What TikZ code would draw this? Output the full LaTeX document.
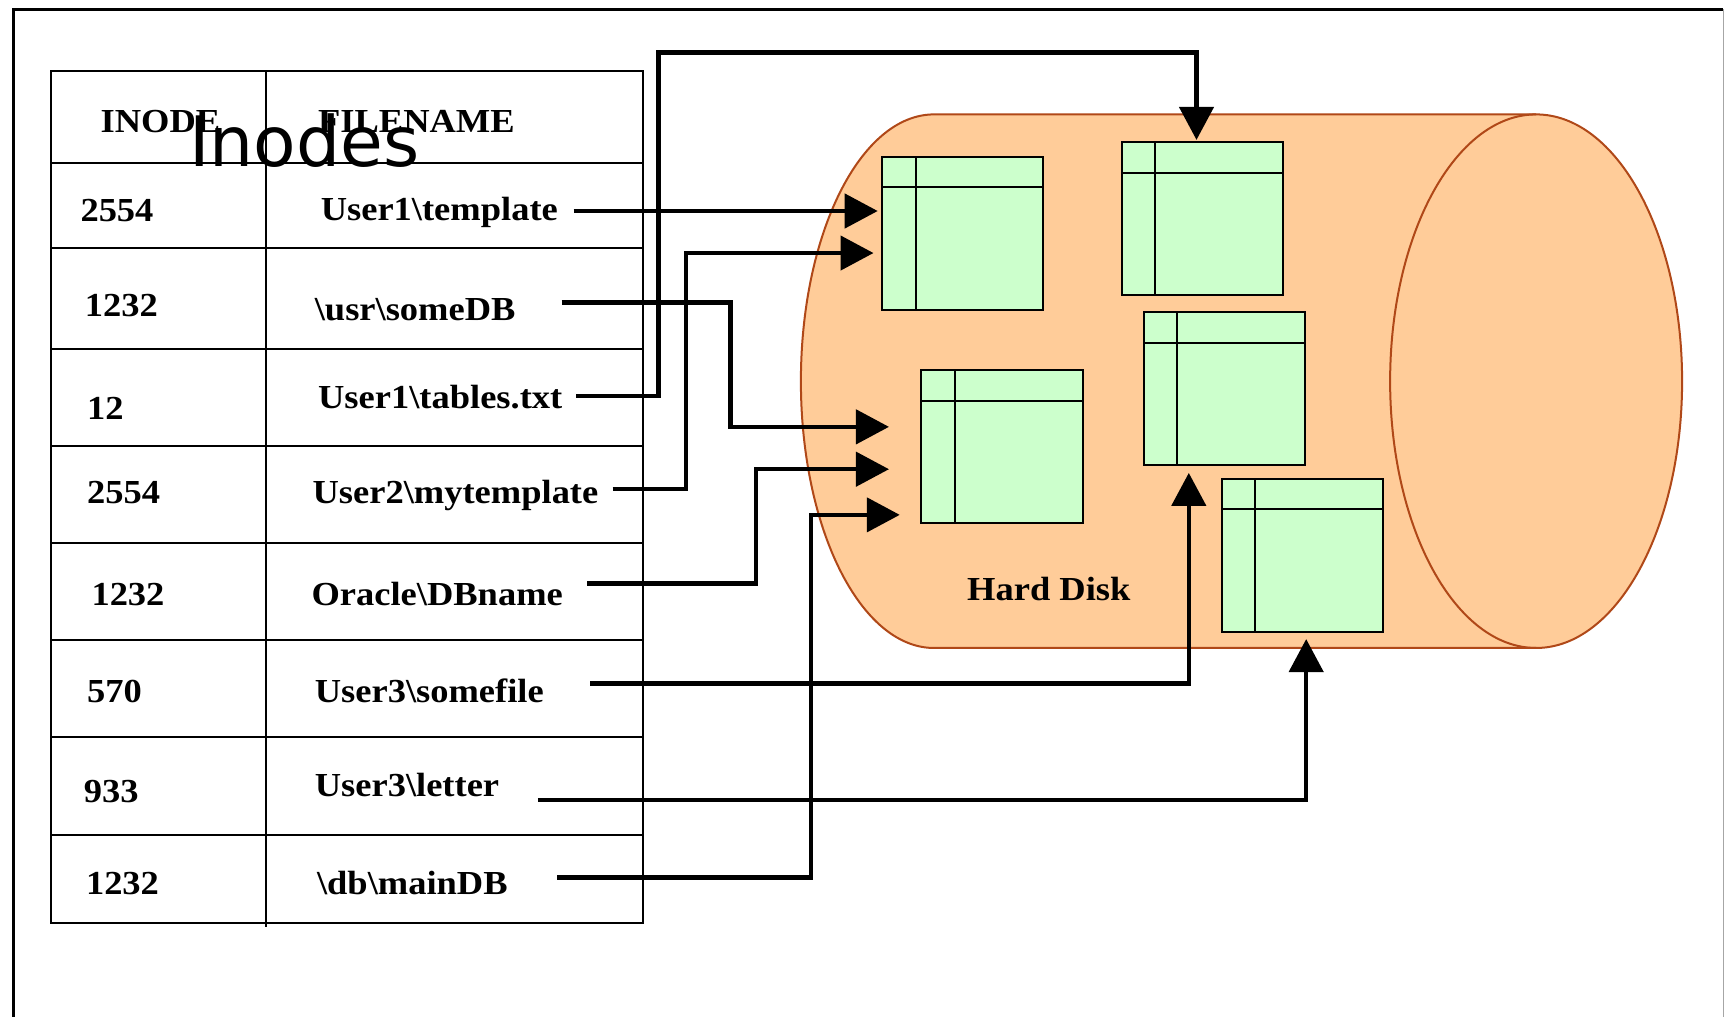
\documentclass[tikz,border=0pt]{standalone}
\usepackage{fontspec}
\usepackage{graphicx}
\setmainfont{Liberation Serif}
\newfontfamily\dejavu{DejaVu Sans}
\usetikzlibrary{arrows.meta}
\definecolor{peach}{HTML}{FFCC99}
\definecolor{boxgreen}{HTML}{CCFFCC}
\definecolor{diskedge}{RGB}{176,72,24}
\newcommand{\mybs}{\textbackslash}
\newcommand{\tabtxt}[1]{\scalebox{1.14}[1.05]{\fontsize{32}{36}\selectfont\bfseries #1}}
\begin{document}
\begin{tikzpicture}[x=1.1pt,y=-1.1pt,
  cell/.style={anchor=base west, inner sep=0pt},
  dblock/.style={draw=black, line width=2pt, fill=boxgreen, minimum width=161pt,
    minimum height=153pt, inner sep=0pt, outer sep=0pt},
  conn/.style={line width=4.5pt, -{Triangle[length=33pt, width=34pt]}},
  tline/.style={line width=2pt}]
\fill[white] (0,0) rectangle (1568,924);
\useasboundingbox (0,0) rectangle (1568,924);
% frame
\draw[line width=3pt] (12,924) -- (12,8.5) -- (1566.4,8.5);
\draw[black!35, line width=1.5pt] (1566.4,8.5) -- (1566.4,924);
% table
\draw[tline] (46.5,64.2) rectangle (584.4,839);
\foreach \y in {148.5,225.8,317.6,405,493.8,581.8,670,758.7}
  \draw[tline] (46.5,\y) -- (584.4,\y);
\draw[tline] (241.8,64.2) -- (241.8,843);
% table text
\node[cell] (h1) at (91.3,120.6) {\tabtxt{INODE}};
\node[cell] (h2) at (289,120.6) {\tabtxt{FILENAME}};
\node[cell] (n1) at (73,201.5) {\tabtxt{2554}};
\node[cell] (f1) at (291.4,200.6) {\tabtxt{User1\mybs template}};
\node[cell] (n2) at (77,287.3) {\tabtxt{1232}};
\node[cell] (f2) at (286,291.5) {\tabtxt{\mybs usr\mybs someDB}};
\node[cell] (n3) at (79,381) {\tabtxt{12}};
\node[cell] (f3) at (289,371.4) {\tabtxt{User1\mybs tables.txt}};
\node[cell] (n4) at (79,457.5) {\tabtxt{2554}};
\node[cell] (f4) at (284,457.5) {\tabtxt{User2\mybs mytemplate}};
\node[cell] (n5) at (83,550) {\tabtxt{1232}};
\node[cell] (f5) at (283,550) {\tabtxt{Oracle\mybs DBname}};
\node[cell] (n6) at (79,638.6) {\tabtxt{570}};
\node[cell] (f6) at (286,638.6) {\tabtxt{User3\mybs somefile}};
\node[cell] (n7) at (76,729.2) {\tabtxt{933}};
\node[cell] (f7) at (286,723.6) {\tabtxt{User3\mybs letter}};
\node[cell] (n8) at (78,813) {\tabtxt{1232}};
\node[cell] (f8) at (288,813) {\tabtxt{\mybs db\mybs mainDB}};
% title overlay
\node[anchor=base west, inner sep=0pt, font=\dejavu\fontsize{69.5}{80}\selectfont] (title) at (172,151.5) {Inodes};
% cylinder
\path[fill=peach, draw=diskedge, line width=2pt] (849,104) -- (1396.3,104)
  arc[start angle=-90, end angle=90, x radius=132.7, y radius=242.5]
  -- (849,589)
  arc[start angle=90, end angle=270, x radius=121, y radius=242.5] -- cycle;
\draw[diskedge, line width=2pt] (1396.3,104)
  arc[start angle=270, end angle=90, x radius=132.7, y radius=242.5];
% blocks
\node[dblock] (b1) at (875.2,211.9) {};
\node[dblock] (b2) at (1092.9,199) {};
\node[dblock] (b3) at (910.8,406.2) {};
\node[dblock] (b4) at (1112.7,353.3) {};
\node[dblock] (b5) at (1183.5,504.8) {};
\foreach \b in {b1,b2,b3,b4,b5} {
  \draw[line width=2pt] ([xshift=33.3pt]\b.north west) -- ([xshift=33.3pt]\b.south west);
  \draw[line width=2pt] ([yshift=-30.5pt]\b.north west) -- ([yshift=-30.5pt]\b.north east);
}
\node[cell] (hd) at (879,546) {\tabtxt{Hard Disk}};
% connectors
\coordinate (s1) at (521.5,191.8);
\coordinate (s2) at (510.5,275);
\coordinate (s3) at (523.6,360);
\coordinate (s4) at (556.8,444.5);
\coordinate (s5) at (533.6,530.5);
\coordinate (s6) at (536.4,621.4);
\coordinate (s7) at (489,727);
\coordinate (s8) at (506.5,797.7);
\draw[conn, shorten >=4.6pt] (s1) -- (s1 -| b1.west);
\draw[conn, shorten >=32.5pt] (s2) -| (664,388) -- (b3.west |- 0,388);
\draw[conn, shorten >=2.5pt] (s3) -| (598.6,47.6) -| (b2.north -| 1087.6,0);
\draw[conn, shorten >=8.8pt] (s4) -| (623.5,230) -- (b1.west |- 0,230);
\draw[conn, shorten >=32.5pt] (s5) -| (687,426.5) -- (b3.west |- 0,426.5);
\draw[conn, shorten >=7.7pt] (s6) -| (b4.south -| 1080.6,0);
\draw[conn, shorten >=7.2pt] (s7) -| (b5.south -| 1187.3,0);
\draw[conn, shorten >=21.7pt] (s8) -| (737,468) -- (b3.west |- 0,468);
\end{tikzpicture}
\end{document}
